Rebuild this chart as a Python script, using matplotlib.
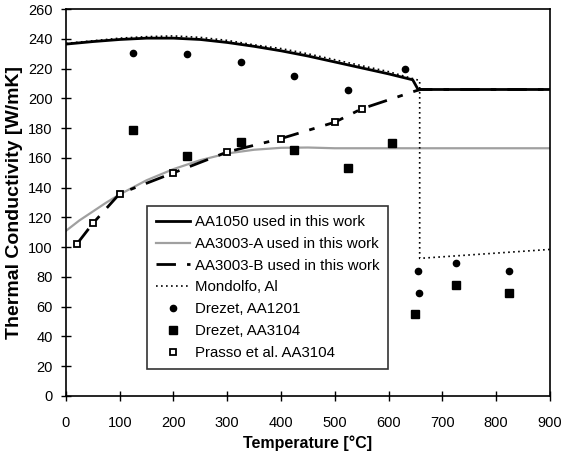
import matplotlib.pyplot as plt

plt.rcParams['font.family'] = ['Liberation Sans', 'DejaVu Sans']

# AA1050 used in this work
aa1050_x = [0, 50, 100, 150, 200, 250, 300, 350, 400, 450, 500, 550, 600, 645, 655, 900]
aa1050_y = [236.5, 238.2, 239.6, 240.5, 240.5, 239.6, 237.6, 235.0, 232.0, 228.5, 224.5, 220.5, 216.5, 212.5, 206, 206]

# AA3003-A used in this work
aa3003a_x = [0, 25, 50, 75, 100, 150, 200, 250, 300, 350, 400, 450, 500, 900]
aa3003a_y = [111, 118, 124, 130, 135.5, 145, 152.5, 158.5, 163, 165.5, 166.8, 167, 166.5, 166.5]

# AA3003-B used in this work
aa3003b_x = [20, 50, 100, 200, 300, 400, 500, 550, 650, 660, 900]
aa3003b_y = [102, 116, 136, 150, 164, 173, 184, 193, 205, 206, 206]

# Mondolfo, Al
mond_x = [0, 100, 150, 200, 250, 300, 350, 400, 450, 500, 550, 600, 658, 658, 900]
mond_y = [237, 240.5, 241.5, 242, 241, 239, 236, 233.5, 230, 226, 222, 218, 212, 92.5, 98.5]

# Drezet, AA1201
d1201_x = [125, 225, 325, 425, 525, 630, 655, 656, 725, 825]
d1201_y = [230.5, 229.8, 224.5, 215, 205.5, 220, 84, 69, 89.5, 84]

# Drezet, AA3104
d3104_x = [125, 225, 325, 425, 525, 607, 650, 725, 825]
d3104_y = [179, 161, 170.5, 165, 153, 170, 55, 74.5, 69.5]

# Prasso et al. AA3104
prasso_x = [20, 50, 100, 200, 300, 400, 500, 550]
prasso_y = [102, 116, 136, 150, 164, 173, 184, 193]

fig = plt.figure(figsize=(5.61, 4.57), dpi=100)
ax = fig.add_axes([0.1176, 0.1335, 0.8624, 0.8465])

ax.plot(aa1050_x, aa1050_y, color='black', lw=2, label='AA1050 used in this work')
ax.plot(aa3003a_x, aa3003a_y, color='#a0a0a0', lw=1.6, label='AA3003-A used in this work')
ax.plot(aa3003b_x, aa3003b_y, color='black', lw=2, dashes=(7, 4, 2, 4), label='AA3003-B used in this work')
ax.plot(mond_x, mond_y, color='black', lw=1.2, ls=(0, (1, 2)), label='Mondolfo, Al')
ax.plot(d1201_x, d1201_y, 'o', color='black', ms=4.5, ls='none', label='Drezet, AA1201')
ax.plot(d3104_x, d3104_y, 's', color='black', ms=5.5, ls='none', label='Drezet, AA3104')
ax.plot(prasso_x, prasso_y, 's', mfc='white', mec='black', mew=1.3, ms=5, ls='none', label='Prasso et al. AA3104')

ax.set_xlim(0, 900)
ax.set_ylim(0, 260)
ax.set_xticks(range(0, 901, 100))
ax.set_yticks(range(0, 261, 20))
ax.tick_params(direction='inout', length=7, width=1, labelsize=10.5)
ax.tick_params(axis='y', pad=6)
ax.tick_params(axis='x', pad=11)
for s in ax.spines.values():
    s.set_linewidth(1.2)

ax.set_xlabel('Temperature [°C]', fontsize=11.5, fontweight='bold', labelpad=4)
ax.set_ylabel('Thermal Conductivity [W/mK]', fontsize=14, fontweight='bold', labelpad=4)

leg = ax.legend(loc='upper left', bbox_to_anchor=(0.1674, 0.491),
                fontsize=10.8, frameon=True, fancybox=False, edgecolor='black',
                borderaxespad=0, handlelength=2.3, handletextpad=0.3,
                labelspacing=0.52, borderpad=0.6)
leg.get_frame().set_linewidth(1.2)

fig.savefig('out.png', dpi=100)
